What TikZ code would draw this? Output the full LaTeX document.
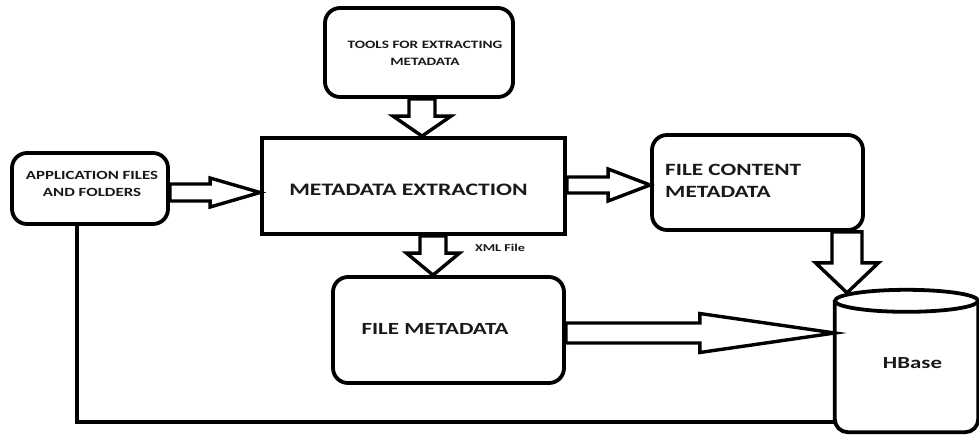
\documentclass[tikz,border=0pt]{standalone}
\usepackage{fontspec}
\setmainfont{Carlito}[FakeStretch=1.35]
\usetikzlibrary{calc}

% block arrow: start, tip, shaft half-width, head half-width, head length
\newcommand\drawblockarrow[5]{%
  \path (#1) coordinate (bas) (#2) coordinate (bat) ($(bat)!#5!(bas)$) coordinate (bah);
  \draw[blockarr] ($(bas)!#3!90:(bat)$) -- ($(bah)!#3!-90:(bas)$) -- ($(bah)!#4!-90:(bas)$)
    -- (bat) -- ($(bah)!#4!90:(bas)$) -- ($(bah)!#3!90:(bas)$) -- ($(bas)!#3!-90:(bat)$) -- cycle;}

\begin{document}
\begin{tikzpicture}[x=1pt,y=-1pt,
  roundbox/.style={draw=black, line width=3.8pt, rounded corners=15pt, fill=white, inner sep=0pt},
  squarebox/.style={draw=black, line width=3.8pt, fill=white, inner sep=0pt},
  blockarr/.style={draw=black, line width=3.4pt, fill=white, line join=miter},
  conn/.style={draw=black, line width=3.8pt},
  lbl/.style={font=\bfseries, text=black!90, inner sep=0pt, align=center}]
\useasboundingbox[fill=white] (0,0) rectangle (979,434);

% boxes
\node[roundbox, minimum width=156pt, minimum height=71pt] (app) at (90,188.5) {};
\node[roundbox, minimum width=188pt, minimum height=89pt] (tools) at (419,52.5) {};
\node[squarebox, minimum width=303pt, minimum height=96pt] (ext) at (413.5,186) {};
\node[roundbox, minimum width=211pt, minimum height=95pt] (fcm) at (757.5,182.5) {};
\node[roundbox, minimum width=231pt, minimum height=106pt] (fm) at (448.5,330) {};

% HBase cylinder
\node[inner sep=0pt, minimum width=143pt, minimum height=131pt] (hbase) at (906.5,366.5) {};
\fill[white] (hbase.north west) rectangle (hbase.south east);
\draw[conn, rounded corners=13pt] (hbase.north west) -- (hbase.south west) -- (hbase.south east) -- (hbase.north east);
\draw[conn, fill=white] (hbase.north) ellipse [x radius=71.5pt, y radius=11pt];

% texts
\node[lbl, font=\bfseries\fontsize{12.5}{17}\selectfont] (apptext) at (92,183.5) {APPLICATION FILES\\AND FOLDERS};
\node[lbl, font=\bfseries\fontsize{11.3}{17}\selectfont] (toolstext) at (425,53.5) {TOOLS FOR EXTRACTING\\METADATA\hspace{34pt}};
\node[lbl, font=\bfseries\fontsize{17.5}{22}\selectfont] (exttext) at (408.5,190) {METADATA EXTRACTION};
\node[lbl, align=left, anchor=west, font=\bfseries\fontsize{17.2}{22}\selectfont] (fcmtext) at (665,181) {FILE CONTENT\\METADATA};
\node[lbl, font=\bfseries\fontsize{17}{22}\selectfont] (fmtext) at (435,329) {FILE METADATA};
\node[lbl, font=\bfseries\fontsize{16.9}{22}\selectfont] (hbasetext) at (912.5,363) {HBase};
\node[lbl, font=\bfseries\fontsize{10.5}{14}\selectfont] (xmltext) at (500,248) {XML File};

% connectors
\draw[conn] ([xshift=-13pt]app.south) |- ([yshift=-55.5pt]hbase.west);

\coordinate (a1) at ($(app.east)+(0,4)$);
\drawblockarrow{a1}{ext.west |- a1}{8.5pt}{14.5pt}{50pt}
\coordinate (a2) at ($(tools.south)+(3,0)$);
\drawblockarrow{a2}{a2 |- ext.north}{13pt}{29pt}{20pt}
\coordinate (a3) at ($(ext.east)+(0,-1)$);
\drawblockarrow{a3}{fcm.west |- a3}{8pt}{16pt}{42pt}
\coordinate (a4) at ($(ext.south)+(19.5,0)$);
\drawblockarrow{a4}{a4 |- fm.north}{13pt}{26.5pt}{22pt}
\coordinate (a5) at ($(fcm.south)+(89.5,0)$);
\coordinate (a5t) at ($(a5 |- hbase.north)+(0,-8)$);
\drawblockarrow{a5}{a5t}{15pt}{31.5pt}{30pt}
\coordinate (a6) at ($(fm.east)+(0,3)$);
\drawblockarrow{a6}{hbase.west |- a6}{10pt}{19.5pt}{135pt}
\end{tikzpicture}
\end{document}
